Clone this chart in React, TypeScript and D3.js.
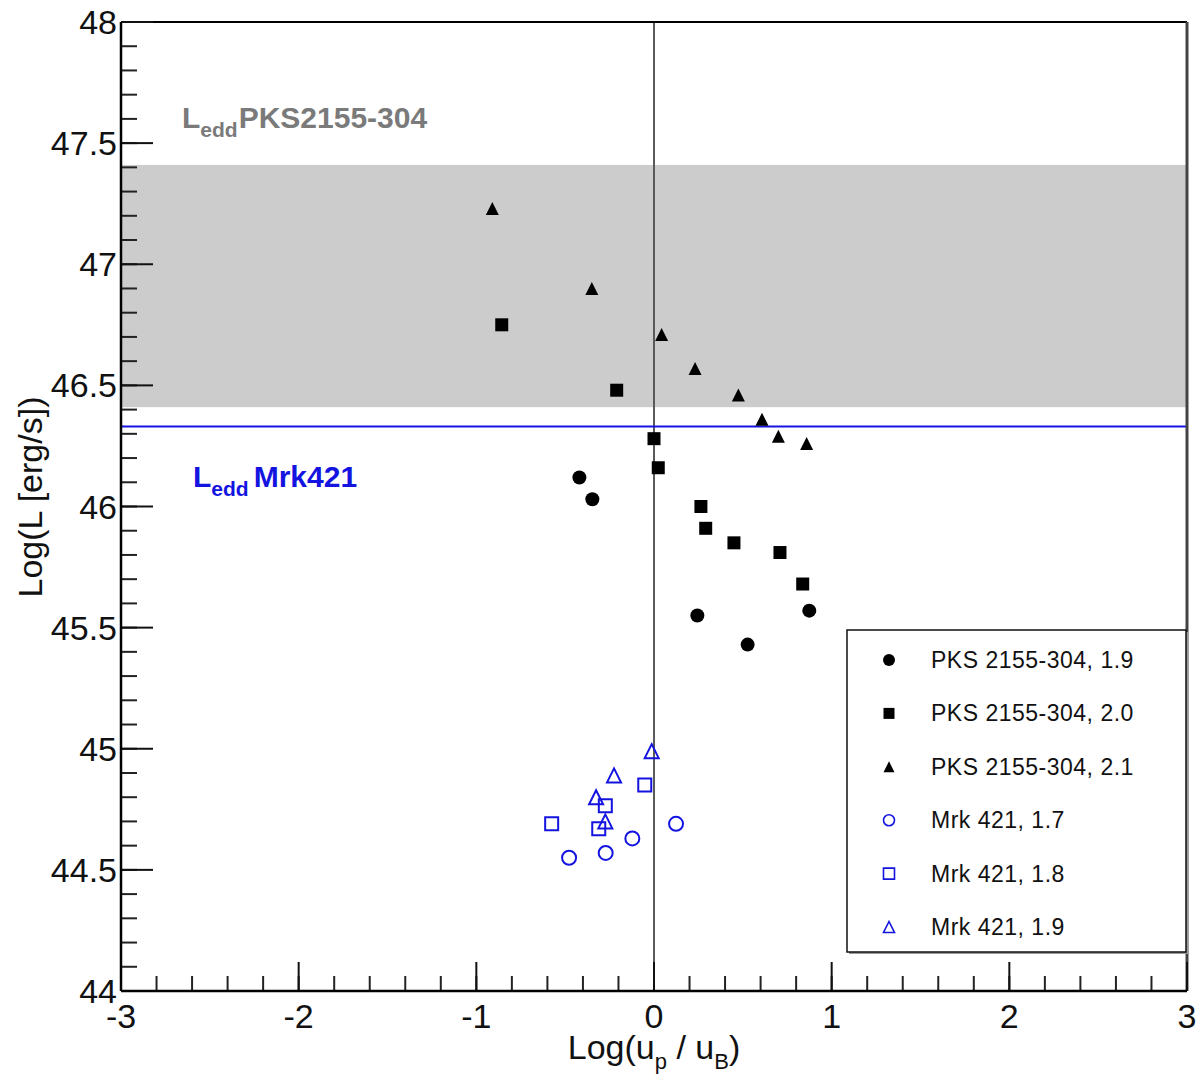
import React from "react";
import * as d3 from "d3";

// ---- data ----
const pks19X = [-0.42, -0.347, 0.244, 0.527, 0.874];
const pks19Y = [46.12, 46.03, 45.55, 45.43, 45.57];
const pks20X = [-0.857, -0.21, 0.0, 0.024, 0.264, 0.291, 0.45, 0.709, 0.837];
const pks20Y = [46.75, 46.48, 46.28, 46.16, 46.0, 45.91, 45.85, 45.81, 45.68];
const pks21X = [-0.91, -0.35, 0.043, 0.231, 0.475, 0.608, 0.7, 0.859];
const pks21Y = [47.23, 46.9, 46.71, 46.57, 46.46, 46.36, 46.29, 46.26];
const mrk17X = [-0.478, -0.272, -0.122, 0.124];
const mrk17Y = [44.55, 44.57, 44.63, 44.69];
const mrk18X = [-0.576, -0.311, -0.274, -0.052];
const mrk18Y = [44.69, 44.67, 44.765, 44.85];
const mrk19X = [-0.013, -0.225, -0.326, -0.274];
const mrk19Y = [44.99, 44.89, 44.8, 44.7];

const eddPksBand = [46.41, 47.41];
const eddMrk = 46.33;

const xMajor = [-3, -2, -1, 0, 1, 2, 3];
const yMajor = [44, 44.5, 45, 45.5, 46, 46.5, 47, 47.5, 48];
const legendLabels = [
  "PKS 2155-304, 1.9",
  "PKS 2155-304, 2.0",
  "PKS 2155-304, 2.1",
  "Mrk 421, 1.7",
  "Mrk 421, 1.8",
  "Mrk 421, 1.9",
];

const BLUE = "#1414e0";
const FONT = "'Liberation Sans', Arial, Helvetica, sans-serif";

// ROOT-like triangle centered on its bounding box
const triangleType = {
  draw(ctx: any, size: number) {
    const w = Math.sqrt(size);
    const h = w;
    ctx.moveTo(0, -h / 2);
    ctx.lineTo(w / 2, h / 2);
    ctx.lineTo(-w / 2, h / 2);
    ctx.closePath();
  },
};

export default function App() {
  const W = 1200,
    H = 1086;
  const x = d3.scaleLinear().domain([-3, 3]).range([121, 1187]);
  const y = d3.scaleLinear().domain([44, 48]).range([991, 22]);

  const circ = (d: number) => d3.symbol(d3.symbolCircle, (Math.PI * d * d) / 4)()!;
  const sq = (s: number) => d3.symbol(d3.symbolSquare, s * s)()!;
  const tri = (s: number) => d3.symbol(triangleType as any, s * s)()!;

  const series = [
    { xs: pks19X, ys: pks19Y, path: circ(14), fill: "#000", stroke: "none", lpath: circ(12) },
    { xs: pks20X, ys: pks20Y, path: sq(13), fill: "#000", stroke: "none", lpath: sq(11) },
    { xs: pks21X, ys: pks21Y, path: tri(13), fill: "#000", stroke: "none", lpath: tri(11) },
    { xs: mrk17X, ys: mrk17Y, path: circ(14), fill: "none", stroke: BLUE, lpath: circ(11) },
    { xs: mrk18X, ys: mrk18Y, path: sq(13), fill: "none", stroke: BLUE, lpath: sq(11) },
    { xs: mrk19X, ys: mrk19Y, path: tri(14), fill: "none", stroke: BLUE, lpath: tri(11) },
  ];

  const xMinor = d3.range(-3, 3.0001, 0.2).map((v) => +v.toFixed(2));
  const yMinor = d3.range(44, 48.0001, 0.1).map((v) => +v.toFixed(2));

  const [x0, x1] = x.range();
  const [yb, yt] = y.range();
  const lx0 = 847,
    ly0 = 630,
    lx1 = 1186,
    ly1 = 952;
  const rowY = d3.scaleLinear().domain([0, 5]).range([660, 927]);

  return (
    <svg
      width={W}
      height={H}
      style={{ position: "absolute", left: 0, top: 0, background: "#fff" }}
      fontFamily={FONT}
    >
      <rect x={0} y={0} width={W} height={H} fill="#fff" />
      {/* Eddington band PKS */}
      <rect
        x={x0}
        y={y(eddPksBand[1])}
        width={x1 - x0}
        height={y(eddPksBand[0]) - y(eddPksBand[1])}
        fill="#cccccc"
      />
      {/* vertical zero line */}
      <line x1={x(0)} x2={x(0)} y1={yt} y2={yb} stroke="#5a5a5a" strokeWidth={2} />
      {/* Mrk Eddington line */}
      <line x1={x0} x2={x1} y1={y(eddMrk)} y2={y(eddMrk)} stroke={BLUE} strokeWidth={2} />

      {/* frame */}
      <line x1={x0} x2={x1} y1={yt} y2={yt} stroke="#000" strokeWidth={2} />
      <line x1={x1} x2={x1} y1={yt} y2={yb} stroke="#444" strokeWidth={3} />

      {/* y ticks */}
      {yMinor.map((v, i) => (
        <line key={"ym" + i} x1={x0} x2={x0 + 16} y1={y(v)} y2={y(v)} stroke="#222" strokeWidth={2} />
      ))}
      {yMajor.map((v, i) => (
        <line key={"yM" + i} x1={x0} x2={x0 + 32} y1={y(v)} y2={y(v)} stroke="#111" strokeWidth={2} />
      ))}
      {/* x ticks */}
      {xMinor.map((v, i) => (
        <line key={"xm" + i} x1={x(v)} x2={x(v)} y1={yb} y2={yb - 15} stroke="#222" strokeWidth={2} />
      ))}
      {xMajor.map((v, i) => (
        <line key={"xM" + i} x1={x(v)} x2={x(v)} y1={yb} y2={yb - 29} stroke="#111" strokeWidth={2} />
      ))}
      {/* axes */}
      <line x1={x0} x2={x0} y1={yt} y2={yb} stroke="#000" strokeWidth={2.5} />
      <line x1={x0} x2={x1} y1={yb} y2={yb} stroke="#000" strokeWidth={2.5} />

      {/* tick labels */}
      {yMajor.map((v, i) => (
        <text key={"yl" + i} x={117} y={y(v) + 12} fontSize={34} textAnchor="end" fill="#111">
          {d3.format("~g")(v)}
        </text>
      ))}
      {xMajor.map((v, i) => (
        <text key={"xl" + i} x={x(v)} y={1028} fontSize={34} textAnchor="middle" fill="#111">
          {v}
        </text>
      ))}

      {/* axis titles */}
      <text x={654} y={1059} fontSize={34} textAnchor="middle" fill="#111">
        <tspan>Log(u</tspan>
        <tspan fontSize={22} dy={10}>p</tspan>
        <tspan dy={-10}>{" / u"}</tspan>
        <tspan fontSize={22} dy={10}>B</tspan>
        <tspan dy={-10}>)</tspan>
      </text>
      <text
        transform="translate(42,497) rotate(-90)"
        fontSize={34}
        textAnchor="middle"
        fill="#111"
      >
        Log(L [erg/s])
      </text>

      {/* Eddington labels */}
      <text x={182} y={128} fontSize={30} fontWeight="bold" fill="#7a7a7a">
        <tspan>L</tspan>
        <tspan fontSize={21} dy={9}>edd</tspan>
        <tspan dy={-9} dx={1}>PKS2155-304</tspan>
      </text>
      <text x={193} y={487} fontSize={30} fontWeight="bold" fill={BLUE}>
        <tspan>L</tspan>
        <tspan fontSize={21} dy={9}>edd</tspan>
        <tspan dy={-9} dx={5}>Mrk421</tspan>
      </text>

      {/* data */}
      {series.map((s, si) =>
        s.xs.map((xv, i) => (
          <path
            key={"p" + si + "-" + i}
            d={s.path}
            transform={`translate(${x(xv)},${y(s.ys[i])})`}
            fill={s.fill}
            stroke={s.stroke}
            strokeWidth={2}
          />
        ))
      )}

      {/* legend */}
      <rect x={lx0 + 2} y={ly0 + 2} width={lx1 - lx0} height={ly1 - ly0} fill="#999" />
      <rect x={lx0} y={ly0} width={lx1 - lx0} height={ly1 - ly0} fill="#fff" stroke="#111" strokeWidth={1.5} />
      {series.map((s, i) => (
        <g key={"lg" + i}>
          <path
            d={s.lpath}
            transform={`translate(889,${rowY(i)})`}
            fill={s.fill}
            stroke={s.stroke}
            strokeWidth={1.6}
          />
          <text x={931} y={rowY(i) + 8} fontSize={23} letterSpacing={0.5} fill="#111">
            {legendLabels[i]}
          </text>
        </g>
      ))}
    </svg>
  );
}
